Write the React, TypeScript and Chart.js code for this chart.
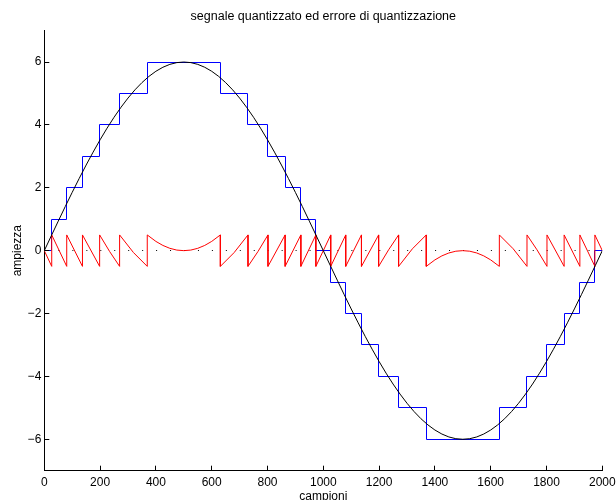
import React, { useEffect, useRef } from "react";
import { Chart, registerables } from "chart.js";

Chart.register(...registerables);

const TITLE = "segnale quantizzato ed errore di quantizzazione";
const X_LABEL = "campioni";
const Y_LABEL = "ampiezza";

const xTicks = [0, 200, 400, 600, 800, 1000, 1200, 1400, 1600, 1800, 2000];
const yTicks = [-6, -4, -2, 0, 2, 4, 6];

// original signal (black)
const sineX = [
  0, 25, 50, 75, 100, 125, 150, 175, 200, 225, 250, 275, 300, 325, 350, 375, 400, 425, 450, 475,
  500, 525, 550, 575, 600, 625, 650, 675, 700, 725, 750, 775, 800, 825, 850, 875, 900, 925, 950, 975,
  1000, 1025, 1050, 1075, 1100, 1125, 1150, 1175, 1200, 1225, 1250, 1275, 1300, 1325, 1350, 1375, 1400, 1425, 1450, 1475,
  1500, 1525, 1550, 1575, 1600, 1625, 1650, 1675, 1700, 1725, 1750, 1775, 1800, 1825, 1850, 1875, 1900, 1925, 1950, 1975,
  2000,
];
const sineY = [
  0, 0.471, 0.939, 1.401, 1.854, 2.296, 2.724, 3.135, 3.527, 3.897, 4.243, 4.562, 4.854, 5.116, 5.346, 5.543, 5.706, 5.834, 5.926, 5.982,
  6, 5.982, 5.926, 5.834, 5.706, 5.543, 5.346, 5.116, 4.854, 4.562, 4.243, 3.897, 3.527, 3.135, 2.724, 2.296, 1.854, 1.401, 0.939, 0.471,
  0, -0.471, -0.939, -1.401, -1.854, -2.296, -2.724, -3.135, -3.527, -3.897, -4.243, -4.562, -4.854, -5.116, -5.346, -5.543, -5.706, -5.834, -5.926, -5.982,
  -6, -5.982, -5.926, -5.834, -5.706, -5.543, -5.346, -5.116, -4.854, -4.562, -4.243, -3.897, -3.527, -3.135, -2.724, -2.296, -1.854, -1.401, -0.939, -0.471,
  0,
];

// quantized signal (blue stairs): level holds from each edge to the next
const stepEdges = [
  0, 26.6, 80.4, 136.8, 198.3, 269.9, 369.0, 631.0, 730.1, 801.7, 863.2, 919.6, 973.4,
  1026.6, 1080.4, 1136.8, 1198.3, 1269.9, 1369.0, 1631.0, 1730.1, 1801.7, 1863.2, 1919.6, 1973.4, 2000,
];
const stepLevels = [
  0, 1, 2, 3, 4, 5, 6, 5, 4, 3, 2, 1, 0,
  -1, -2, -3, -4, -5, -6, -5, -4, -3, -2, -1, 0, 0,
];

// quantization error (red)
const errX = [
  0, 26.6, 26.6, 80.4, 80.4, 136.8, 136.8, 198.3, 198.3, 234.1, 269.9, 269.9, 319.5, 369.0,
  369.0, 400, 425, 450, 475, 500, 525, 550, 575, 600, 631.0,
  631.0, 680.5, 730.1, 730.1, 765.9, 801.7, 801.7, 863.2, 863.2, 919.6, 919.6, 973.4,
  973.4, 1026.6, 1026.6, 1080.4, 1080.4, 1136.8, 1136.8, 1198.3, 1198.3, 1234.1, 1269.9, 1269.9, 1319.5, 1369.0,
  1369.0, 1400, 1425, 1450, 1475, 1500, 1525, 1550, 1575, 1600, 1631.0,
  1631.0, 1680.5, 1730.1, 1730.1, 1765.9, 1801.7, 1801.7, 1863.2, 1863.2, 1919.6, 1919.6, 1973.4,
  1973.4, 2000,
];
const errY = [
  0, -0.5, 0.5, -0.5, 0.5, -0.5, 0.5, -0.5, 0.5, -0.027, -0.5, 0.5, -0.06, -0.5,
  0.5, 0.294, 0.166, 0.074, 0.018, 0, 0.018, 0.074, 0.166, 0.294, 0.5,
  -0.5, -0.06, 0.5, -0.5, -0.027, 0.5, -0.5, 0.5, -0.5, 0.5, -0.5, 0.5,
  -0.5, 0.5, -0.5, 0.5, -0.5, 0.5, -0.5, 0.5, -0.5, 0.027, 0.5, -0.5, 0.06, 0.5,
  -0.5, -0.294, -0.166, -0.074, -0.018, 0, -0.018, -0.074, -0.166, -0.294, -0.5,
  0.5, 0.06, -0.5, 0.5, 0.027, -0.5, 0.5, -0.5, 0.5, -0.5, 0.5, -0.5,
  0.5, 0,
];

// zero reference (dotted)
const zeroX = [0, 2000];
const zeroY = [0, 0];

const FONT = '"Liberation Sans", Arial, Helvetica, sans-serif';

const pts = (xs: number[], ys: number[]) => xs.map((x, i) => ({ x, y: ys[i] }));

// snap the computed element positions of crisp datasets to pixel centres
const snapPlugin = {
  id: "snap",
  afterDatasetsUpdate(chart: any) {
    chart.data.datasets.forEach((ds: any, i: number) => {
      if (!ds.snap) return;
      const meta = chart.getDatasetMeta(i);
      for (const p of meta.data) {
        p.x = Math.floor(p.x) + 0.5;
        p.y = Math.floor(p.y) + 0.5;
      }
    });
  },
};

const overlayPlugin = {
  id: "overlay",
  afterDraw(chart: any) {
    const { ctx, chartArea, scales } = chart;
    const sx = scales.x;
    const sy = scales.y;
    ctx.save();
    ctx.strokeStyle = "#000";
    ctx.lineWidth = 1;
    ctx.beginPath();
    for (const v of xTicks) {
      const px = Math.floor(sx.getPixelForValue(v)) + 0.5;
      ctx.moveTo(px, chartArea.bottom);
      ctx.lineTo(px, chartArea.bottom - 5);
    }
    for (const v of yTicks) {
      const py = Math.floor(sy.getPixelForValue(v)) + 0.5;
      ctx.moveTo(chartArea.left, py);
      ctx.lineTo(chartArea.left + 5, py);
    }
    ctx.stroke();
    const cx = (chartArea.left + chartArea.right) / 2;
    const cy = (chartArea.top + chartArea.bottom) / 2;
    ctx.fillStyle = "#000";
    ctx.textAlign = "center";
    ctx.textBaseline = "alphabetic";
    ctx.font = `12.5px ${FONT}`;
    ctx.fillText(TITLE, cx, 20);
    ctx.font = `12px ${FONT}`;
    ctx.fillText(X_LABEL, cx, 499.5);
    ctx.translate(17.3, cy);
    ctx.rotate(-Math.PI / 2);
    ctx.textBaseline = "middle";
    ctx.fillText(Y_LABEL, 0, 0);
    ctx.restore();
  },
};

export default function App() {
  const ref = useRef<HTMLCanvasElement | null>(null);
  useEffect(() => {
    document.body.style.margin = "0";
    const canvas = ref.current;
    if (!canvas) return;
    const chart = new Chart(canvas, {
      type: "line",
      data: {
        datasets: [
          {
            data: pts(sineX, sineY),
            borderColor: "#000000",
            borderWidth: 1,
            pointRadius: 0,
            tension: 0,
          },
          {
            data: pts(errX, errY),
            borderColor: "#ff0000",
            borderWidth: 1,
            pointRadius: 0,
            tension: 0,
          },
          {
            data: pts(stepEdges, stepLevels),
            borderColor: "#0000ff",
            borderWidth: 1,
            pointRadius: 0,
            stepped: "before",
            snap: true,
          },
          {
            data: pts(zeroX, zeroY),
            borderColor: "#000000",
            borderWidth: 1,
            pointRadius: 0,
            borderDash: [1, 12.95],
            snap: true,
          },
        ],
      },
      options: {
        animation: false,
        responsive: false,
        devicePixelRatio: 1,
        events: [],
        layout: { padding: { top: 30.6, right: 13.7, bottom: 0, left: 0 } },
        plugins: {
          legend: { display: false },
          title: { display: false },
          tooltip: { enabled: false },
        },
        scales: {
          x: {
            type: "linear",
            min: 0,
            max: 2000,
            afterBuildTicks: (s: any) => {
              s.ticks = xTicks.map((v) => ({ value: v }));
            },
            afterFit: (s: any) => {
              s.height = 29.3;
              s.paddingLeft = 0;
              s.paddingRight = 0;
            },
            ticks: {
              color: "#000",
              font: { size: 12, family: FONT },
              padding: 5,
              maxRotation: 0,
              autoSkip: false,
              callback: (v: any) => String(v),
            },
            grid: { display: false, drawTicks: false },
            border: { display: true, color: "#000", width: 1 },
          },
          y: {
            type: "linear",
            min: -7,
            max: 7,
            afterBuildTicks: (s: any) => {
              s.ticks = yTicks.map((v) => ({ value: v }));
            },
            afterFit: (s: any) => {
              s.width = 44.3;
              s.paddingTop = 0;
              s.paddingBottom = 0;
            },
            ticks: {
              color: "#000",
              font: { size: 12, family: FONT },
              padding: 3,
              autoSkip: false,
              callback: (v: any) => (v < 0 ? "\u2212" + Math.abs(v) : String(v)),
            },
            grid: { display: false, drawTicks: false },
            border: { display: true, color: "#000", width: 1 },
          },
        },
      },
      plugins: [snapPlugin, overlayPlugin],
    } as any);
    return () => chart.destroy();
  }, []);
  return (
    <div style={{ width: 616, height: 500 }}>
      <canvas ref={ref} width={616} height={500} style={{ display: "block" }} />
    </div>
  );
}
